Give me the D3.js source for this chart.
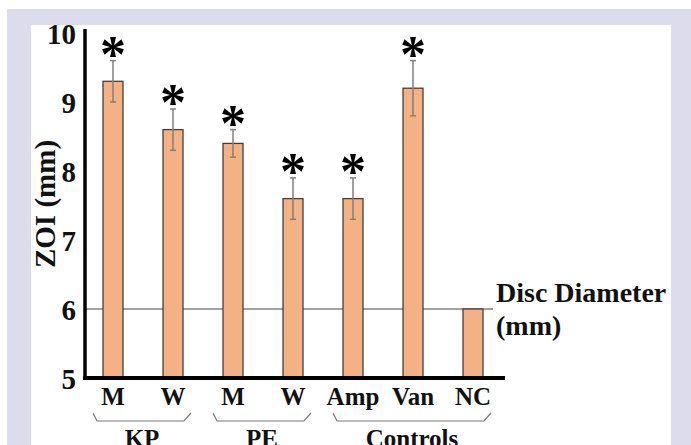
<!DOCTYPE html>
<html>
<head>
<meta charset="utf-8">
<script src="https://cdn.jsdelivr.net/npm/d3@7"></script>
<style>
  body { margin: 0; background: #fff; }
  svg text { font-family: "Liberation Serif", "Times New Roman", serif; font-weight: bold; fill: #111; }
</style>
</head>
<body>
<div id="chart"></div>
<script>
"use strict";

// data
let categories = ["M", "W", "M2", "W2", "Amp", "Van", "NC"];
let labels = ["M", "W", "M", "W", "Amp", "Van", "NC"];
let means = [9.3, 8.6, 8.4, 7.6, 7.6, 9.2, 6.0];
let errors = [0.3, 0.3, 0.2, 0.3, 0.3, 0.4, 0];
let significant = [true, true, true, true, true, true, false];
let yTicks = [5, 6, 7, 8, 9, 10];
let groups = [
  { name: "KP", from: "M", to: "W" },
  { name: "PE", from: "M2", to: "W2" },
  { name: "Controls", from: "Amp", to: "NC" }
];
let discDiameter = 6;

let width = 691, height = 445;

let svg = d3.select("#chart").append("svg")
  .attr("width", width)
  .attr("height", height);

// frame: lavender border with white panel
svg.append("rect")
  .attr("x", 7).attr("y", 9)
  .attr("width", width - 7).attr("height", height - 9)
  .attr("fill", "#dcdcec");
svg.append("rect")
  .attr("x", 31).attr("y", 25)
  .attr("width", 640).attr("height", height - 25)
  .attr("fill", "#fff");

let x = d3.scalePoint()
  .domain(categories)
  .range([113, 473]);

let y = d3.scaleLinear()
  .domain([5, 10])
  .range([378, 33]);

let barWidth = 20;

// reference line at disc diameter
svg.append("line")
  .attr("x1", 85).attr("x2", 493)
  .attr("y1", y(discDiameter)).attr("y2", y(discDiameter))
  .attr("stroke", "#444")
  .attr("stroke-width", 1);

// bars
let bars = svg.append("g");
bars.selectAll("rect")
  .data(categories)
  .enter().append("rect")
  .attr("x", d => x(d) - barWidth / 2)
  .attr("width", barWidth)
  .attr("y", (d, i) => y(means[i]))
  .attr("height", (d, i) => y(5) - y(means[i]))
  .attr("fill", "#f4b183")
  .attr("stroke", "#404040")
  .attr("stroke-width", 1.3);

// error bars
let errG = svg.append("g")
  .attr("stroke", "#808080")
  .attr("stroke-width", 1.5);
categories.forEach((c, i) => {
  if (!errors[i]) return;
  let cx = x(c), top = y(means[i] + errors[i]), bot = y(means[i] - errors[i]);
  errG.append("line").attr("x1", cx).attr("x2", cx).attr("y1", top).attr("y2", bot);
  errG.append("line").attr("x1", cx - 3).attr("x2", cx + 3).attr("y1", top).attr("y2", top);
  errG.append("line").attr("x1", cx - 3).attr("x2", cx + 3).attr("y1", bot).attr("y2", bot);
});

// significance asterisks
svg.append("g").selectAll("text")
  .data(categories.filter((c, i) => significant[i]))
  .enter().append("text")
  .attr("x", d => x(d))
  .attr("y", d => {
    let i = categories.indexOf(d);
    return y(means[i] + errors[i]) + 11;
  })
  .attr("text-anchor", "middle")
  .style("font-size", "52px")
  .style("fill", "#000")
  .text("*");

// y axis
let yAxis = svg.append("g")
  .attr("transform", "translate(85,0)")
  .call(d3.axisLeft(y).tickValues(yTicks).tickSize(0).tickPadding(9).tickFormat(d3.format("d")));
yAxis.select(".domain").remove();
yAxis.selectAll("text")
  .attr("fill", "#111")
  .style("font-size", "29px")
  .style("font-family", "Liberation Serif, serif")
  .style("font-weight", "bold")
  .attr("dy", "0.35em");

svg.append("line")
  .attr("x1", 85).attr("x2", 85)
  .attr("y1", 29).attr("y2", 380)
  .attr("stroke", "#000")
  .attr("stroke-width", 3.5);

// x axis baseline
svg.append("line")
  .attr("x1", 83).attr("x2", 505)
  .attr("y1", 378).attr("y2", 378)
  .attr("stroke", "#000")
  .attr("stroke-width", 4);

// category labels
svg.append("g").selectAll("text")
  .data(categories)
  .enter().append("text")
  .attr("x", d => x(d))
  .attr("y", 405)
  .attr("text-anchor", "middle")
  .style("font-size", "25px")
  .text((d, i) => labels[i]);

// group braces and names
groups.forEach(g => {
  let x0 = x(g.from) - 20, x1 = x(g.to) + 18;
  svg.append("path")
    .attr("d", `M${x0},413 L${x0 + 4},421 L${x1 - 7},421 L${x1},413`)
    .attr("fill", "none")
    .attr("stroke", "#777")
    .attr("stroke-width", 1.2);
  svg.append("text")
    .attr("x", (x0 + x1) / 2)
    .attr("y", 447)
    .attr("text-anchor", "middle")
    .style("font-size", "25px")
    .text(g.name);
});

// y axis title
svg.append("text")
  .attr("transform", "translate(55,204) rotate(-90)")
  .attr("text-anchor", "middle")
  .style("font-size", "29px")
  .text("ZOI (mm)");

// reference line label
svg.append("text")
  .attr("x", 496).attr("y", 302)
  .style("font-size", "28px")
  .text("Disc Diameter");
svg.append("text")
  .attr("x", 496).attr("y", 335)
  .style("font-size", "28px")
  .text("(mm)");
</script>
</body>
</html>
